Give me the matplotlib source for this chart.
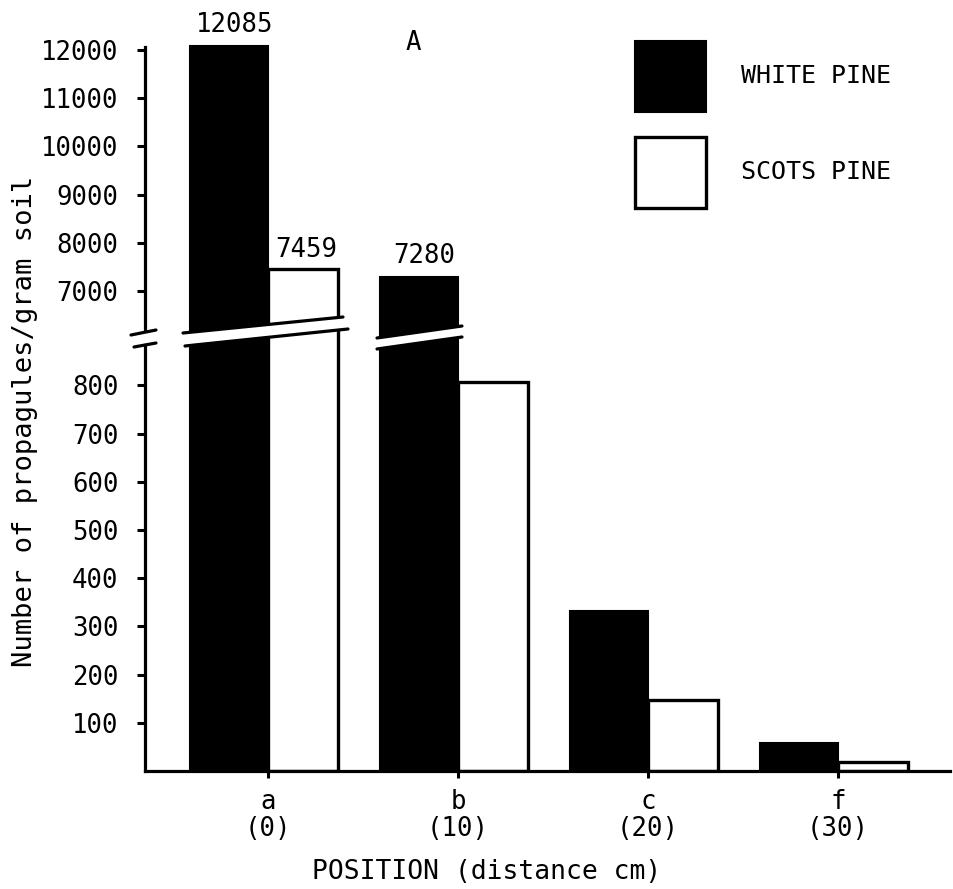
import numpy as np
import matplotlib
matplotlib.use("Agg")
import matplotlib.pyplot as plt
from matplotlib.patches import Polygon
from matplotlib.lines import Line2D

# ---- data ----
positions = ["a", "b", "c", "f"]
distances = ["(0)", "(10)", "(20)", "(30)"]
white_pine = [12085, 7280, 331, 58]
scots_pine = [7459, 807, 147, 18]
upper_ticks = [7000, 8000, 9000, 10000, 11000, 12000]
lower_ticks = [100, 200, 300, 400, 500, 600, 700, 800]

plt.rcParams['font.family'] = ['DejaVu Sans Mono', 'DejaVu Sans']

W, H = 954, 889
fig = plt.figure(figsize=(W / 100, H / 100), dpi=100)


def rect(l, t, r, b):
    return [l / W, 1 - b / H, (r - l) / W, (b - t) / H]


def fx(px):
    return px / W


def fy(py):
    return 1 - py / H


ax_top = fig.add_axes(rect(145, 40, 950, 340))
ax_bot = fig.add_axes(rect(145, 340, 950, 771))

x = np.arange(len(positions))
bw_black = 0.41
bw_white = 0.37
conts = {}
for ax in (ax_top, ax_bot):
    cb = ax.bar(x - bw_black / 2, white_pine, width=bw_black, color="black",
                edgecolor="black", linewidth=1.5, label="WHITE PINE")
    cw = ax.bar(x + bw_white / 2, scots_pine, width=bw_white, color="white",
                edgecolor="black", linewidth=2.4, label="SCOTS PINE")
    conts[ax] = (cb, cw)
    ax.set_xlim(-0.647, 3.589)

ax_top.set_ylim(5983, 12207)
ax_bot.set_ylim(0, 894)

lw = 2.3
for s in ("top", "right", "bottom"):
    ax_top.spines[s].set_visible(False)
for s in ("top", "right"):
    ax_bot.spines[s].set_visible(False)
ax_top.spines["left"].set_bounds(6200, 12060)
ax_bot.spines["left"].set_bounds(0, 884)
ax_top.spines["left"].set_linewidth(lw)
ax_bot.spines["left"].set_linewidth(lw)
ax_bot.spines["bottom"].set_linewidth(lw)

ax_top.set_yticks(upper_ticks)
ax_top.set_yticklabels([str(v) for v in upper_ticks])
ax_bot.set_yticks(lower_ticks)
ax_bot.set_yticklabels([str(v) for v in lower_ticks])
for ax in (ax_top, ax_bot):
    ax.tick_params(axis="y", direction="out", length=6, width=2.2,
                   labelsize=18.5, pad=13)
ax_top.set_xticks([])
ax_bot.set_xticks(x)
ax_bot.set_xticklabels([f"{p}\n{d}" for p, d in zip(positions, distances)],
                       linespacing=1.05)
ax_bot.tick_params(axis="x", direction="out", length=5, width=2.2,
                   labelsize=18.5, pad=8)

# value labels for bars above the break
lo_top = ax_top.get_ylim()[0]
for i, v in enumerate(white_pine):
    if v > lo_top:
        ax_top.annotate(str(v), (x[i] - bw_black / 2, v), xytext=(4, 6),
                        textcoords="offset points", ha="center", va="bottom",
                        fontsize=18.5)
for i, v in enumerate(scots_pine):
    if v > lo_top:
        ax_top.annotate(str(v), (x[i] + bw_white / 2, v), xytext=(2, 4),
                        textcoords="offset points", ha="center", va="bottom",
                        fontsize=18.5)

# break marks across bars (slanted white band with black edges)
bands = [((183, 333), (343, 317), (185, 346), (348, 329)),
         ((377, 338), (462, 326), (377, 349), (462, 337))]
for (ul, ur, ll, lr) in bands:
    poly = Polygon([(fx(ul[0]), fy(ul[1])), (fx(ur[0]), fy(ur[1])),
                    (fx(lr[0]), fy(lr[1])), (fx(ll[0]), fy(ll[1]))],
                   closed=True, facecolor="white", edgecolor="none",
                   transform=fig.transFigure, zorder=5)
    fig.add_artist(poly)
    for a, b in ((ul, ur), (ll, lr)):
        fig.add_artist(Line2D([fx(a[0]), fx(b[0])], [fy(a[1]), fy(b[1])],
                              color="black", lw=2.3, transform=fig.transFigure,
                              zorder=6, solid_capstyle="round"))
# axis break marks
for a, b in (((131, 335), (156, 330)), ((134, 347), (156, 343))):
    fig.add_artist(Line2D([fx(a[0]), fx(b[0])], [fy(a[1]), fy(b[1])],
                          color="black", lw=2.3, transform=fig.transFigure,
                          zorder=6, solid_capstyle="round"))

# labels
fig.text(fx(25), fy(421), "Number of propagules/gram soil", rotation=90,
         ha="center", va="center", fontsize=19.5)
fig.text(fx(487), fy(872), "POSITION (distance cm)", ha="center",
         va="center", fontsize=19)
fig.text(fx(413), fy(43), "A", ha="center", va="center", fontsize=18.5)

# legend
cb, cw = conts[ax_top]
fig.legend([cb, cw], ["WHITE PINE", "SCOTS PINE"], loc="upper left",
           bbox_to_anchor=(fx(635), fy(41)), frameon=False, fontsize=18,
           handlelength=2.85, handleheight=4.0, handletextpad=1.4,
           labelspacing=1.0, borderpad=0, borderaxespad=0)

fig.savefig("out.png", dpi=100)
